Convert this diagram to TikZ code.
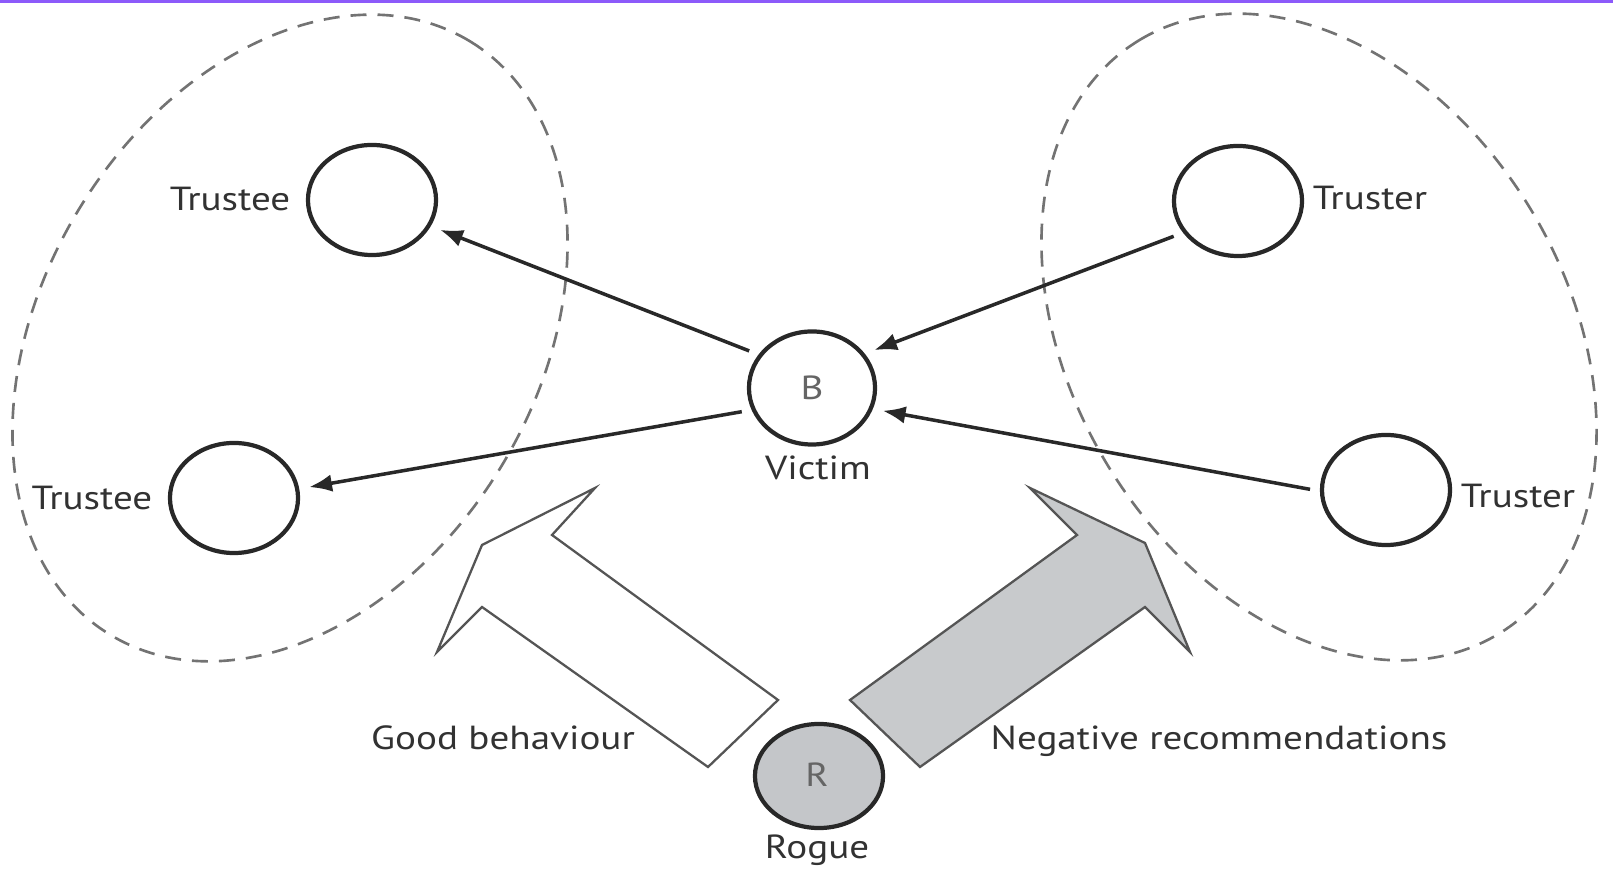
\documentclass[tikz,border=0pt]{standalone}
\usepackage{fontspec}
\setmainfont{PT Sans}[FakeStretch=1.17]
\usetikzlibrary{arrows.meta,shapes.geometric}
\definecolor{ink}{RGB}{40,40,40}
\definecolor{txt}{RGB}{50,50,50}
\definecolor{dashgray}{RGB}{115,115,115}
\definecolor{roguefill}{RGB}{196,198,201}
\definecolor{arrowfill}{RGB}{200,202,204}
\definecolor{arrowline}{RGB}{85,85,85}
\definecolor{topline}{RGB}{140,90,250}
\begin{document}
\begin{tikzpicture}[x=0.01cm,y=-0.01cm,
  agent/.style={ellipse, draw=ink, line width=1.2pt, minimum width=1.28cm, minimum height=1.10cm, inner sep=0pt, fill=white},
  lbl/.style={text=txt, font=\fontsize{9.5}{11}\selectfont, inner sep=0pt, anchor=base},
  inlbl/.style={text=txt!75, font=\fontsize{9.5}{11}\selectfont, inner sep=0pt, anchor=base},
  conn/.style={draw=ink, line width=1pt, -{Latex[length=6.5pt,width=5pt]}, shorten <=0.10cm, shorten >=0.10cm},
  group/.style={draw=dashgray, line width=0.75pt, dash pattern=on 0.16cm off 0.11cm},
  bigarrow/.style={draw=arrowline, line width=0.65pt, line join=miter}]
\useasboundingbox (0,0) rectangle (1613,871);
\fill[topline] (0,0) rectangle (1613,3);

% dashed groups
\draw[group, rotate around={58.8:(290,338)}] (290,338) ellipse [x radius=3.468cm, y radius=2.471cm];
\draw[group, rotate around={121.2:(1319,337)}] (1319,337) ellipse [x radius=3.468cm, y radius=2.471cm];

% block arrows
\draw[bigarrow, fill=white] (778,700) -- (552,535) -- (595,488) -- (482,545) -- (437,652) -- (482,607) -- (708,767) -- cycle;
\draw[bigarrow, fill=arrowfill] (850,700) -- (1077,535) -- (1030,488) -- (1145,543) -- (1190,652) -- (1145,607) -- (920,767) -- cycle;

% agents
\node[agent] (t1) at (372,200) {};
\node[agent] (t2) at (234,498) {};
\node[agent] (r1) at (1238,201) {};
\node[agent] (r2) at (1386,490) {};
\node[agent, minimum width=1.26cm, minimum height=1.13cm] (B) at (812,388) {};
\node[agent, fill=roguefill, minimum width=1.28cm, minimum height=1.04cm] (R) at (819,776) {};
\node[inlbl] (bl) at (812,400) {B};
\node[inlbl] (rl) at (817,787) {R};

% labels
\node[lbl] (lt1) at (230,211) {Trustee};
\node[lbl] (lt2) at (92,510) {Trustee};
\node[lbl] (lr1) at (1370,210) {Truster};
\node[lbl] (lr2) at (1518,508) {Truster};
\node[lbl] (lv) at (818,480) {Victim};
\node[lbl] (lrg) at (817,858) {Rogue};
\node[lbl] (lgb) at (503,750) {Good behaviour};
\node[lbl] (lnr) at (1219,750) {Negative recommendations};

% connectors
\draw[conn] (B.148) -- (t1.-24);
\draw[conn] (B.200) -- (t2.8);
\draw[conn] (r1.210) -- (B.33);
\draw[conn] (r2.181) -- (B.-19);
\end{tikzpicture}
\end{document}
